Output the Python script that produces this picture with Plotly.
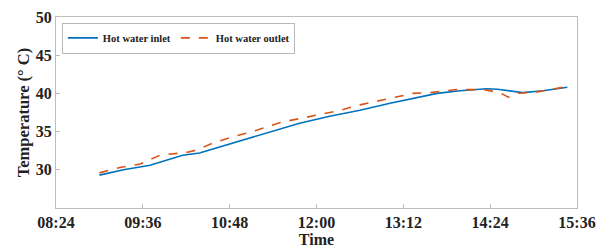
import plotly.graph_objects as go

day = "2024-01-01 "

inlet_time = ["09:00", "09:20", "09:42", "09:56", "10:09", "10:23", "10:38", "10:51",
              "11:02", "11:11", "11:21", "11:46", "12:11", "12:36", "13:01", "13:20",
              "13:40", "13:59", "14:13", "14:21", "14:30", "14:40", "14:51", "15:08", "15:28"]
inlet_temp = [29.3, 30.0, 30.6, 31.3, 31.9, 32.2, 32.9, 33.5,
              34.1, 34.5, 35.0, 36.1, 37.0, 37.8, 38.7, 39.3,
              40.0, 40.35, 40.55, 40.6, 40.55, 40.3, 40.1, 40.35, 40.8]

outlet_time = ["09:00", "09:17", "09:34", "09:50", "10:13", "10:21", "10:34", "10:48",
               "11:11", "11:30", "11:46", "12:03", "12:20", "12:36", "13:01", "13:20",
               "13:34", "13:56", "14:18", "14:25", "14:32", "14:39", "14:46", "15:03", "15:19", "15:28"]
outlet_temp = [29.6, 30.3, 30.75, 31.9, 32.3, 32.6, 33.5, 34.2,
               35.2, 36.2, 36.7, 37.3, 37.8, 38.5, 39.3, 40.0,
               40.1, 40.5, 40.5, 40.3, 40.1, 39.5, 40.0, 40.2, 40.6, 40.9]

x_ticks = ["08:24", "09:36", "10:48", "12:00", "13:12", "14:24", "15:36"]
y_ticks = [30, 35, 40, 45, 50]

font = "Liberation Serif"

fig = go.Figure()
fig.add_trace(go.Scatter(x=[day + t for t in inlet_time], y=inlet_temp, mode="lines",
                         name="Hot water inlet", line=dict(color="#0072BD", width=1.6)))
fig.add_trace(go.Scatter(x=[day + t for t in outlet_time], y=outlet_temp, mode="lines",
                         name="Hot water outlet", line=dict(color="#D95319", width=1.6, dash="dash")))

axis_common = dict(showline=True, linecolor="#bdbdbd", linewidth=1, mirror=True,
                   ticks="inside", ticklen=4, tickcolor="#bdbdbd", showgrid=False,
                   zeroline=False, automargin=False)

fig.update_layout(
    width=609, height=249,
    margin=dict(l=48, r=40, t=9, b=49),
    paper_bgcolor="white", plot_bgcolor="white",
    font=dict(family=font, color="#222222"),
    xaxis=dict(range=[day + x_ticks[0], day + x_ticks[-1]],
               tickvals=[day + t for t in x_ticks], ticktext=x_ticks,
               tickfont=dict(size=16, family=font, weight="bold"),
               title=dict(text="<b>Time</b>", font=dict(size=16), standoff=1),
               **axis_common),
    yaxis=dict(range=[25, 50], tickvals=y_ticks,
               tickfont=dict(size=16, family=font, weight="bold"),
               title=dict(text="<b>Temperature (° C)</b>", font=dict(size=16.5), standoff=2),
               **axis_common),
    legend=dict(orientation="h", x=0.012, y=0.97, xanchor="left", yanchor="top",
                bgcolor="white", bordercolor="#888888", borderwidth=0.6,
                font=dict(size=10.5, family=font, weight="bold"),
                itemwidth=30, tracegroupgap=0),
    showlegend=True,
)

fig.write_html("out.html")
